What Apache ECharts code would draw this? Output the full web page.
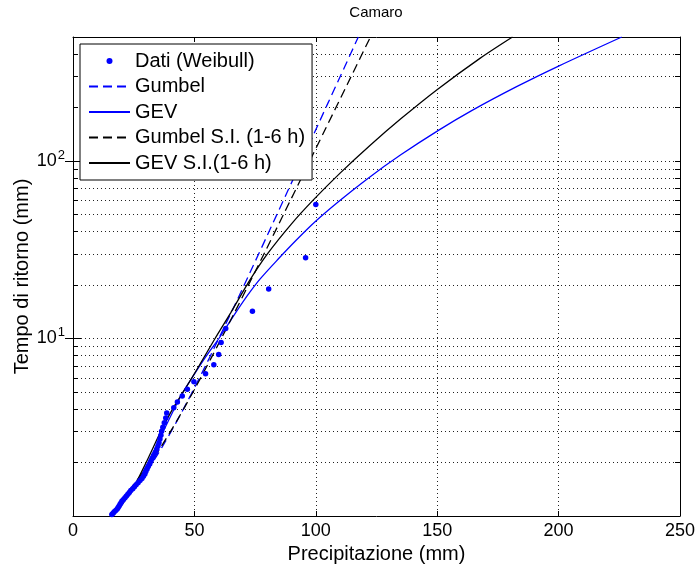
<!DOCTYPE html>
<html><head><meta charset="utf-8">
<script src="https://cdn.jsdelivr.net/npm/echarts@6/dist/echarts.min.js"></script>
<style>html,body{margin:0;padding:0;background:#fff}#c{width:699px;height:569px}</style>
</head><body><div id="c"></div>
<script>
const FONT = '"Liberation Sans", Arial, sans-serif';
const chartTitle = 'Camaro';
const xName = 'Precipitazione (mm)';
const yName = 'Tempo di ritorno (mm)';
const seriesNames = ['Dati (Weibull)', 'Gumbel', 'GEV', 'Gumbel S.I. (1-6 h)', 'GEV S.I.(1-6 h)'];
const yTickValues = [1,2,3,4,5,6,7,8,9,10,20,30,40,50,60,70,80,90,100,200,300,400,500];
const yMajorTicks = [10, 100];
const yLabelValues = [10, 100];

// observed data (Weibull plotting positions)
const dataPrecip = [16.0,16.5,17.0,17.6,18.2,18.6,19.0,19.4,19.8,20.2,20.8,21.4,22.0,22.6,23.2,23.8,24.6,25.3,26.0,26.8,27.6,28.4,29.0,29.6,30.0,30.5,31.0,31.6,32.1,32.6,33.2,33.9,34.5,35.0,35.4,35.8,36.2,36.5,37.0,37.6,38.2,38.6,41.5,43.0,45.0,47.1,49.8,54.6,58.0,60.0,61.0,62.9,73.9,80.6,95.8,100.0];
const dataReturn = [1.018,1.036,1.056,1.075,1.096,1.118,1.14,1.163,1.188,1.213,1.239,1.267,1.295,1.326,1.357,1.39,1.425,1.462,1.5,1.54,1.583,1.629,1.676,1.727,1.781,1.839,1.9,1.966,2.036,2.111,2.192,2.28,2.375,2.478,2.59,2.714,2.85,3.0,3.167,3.353,3.563,3.8,4.071,4.385,4.75,5.18,5.7,6.33,7.125,8.14,9.5,11.4,14.25,19.0,28.5,57.0];

const gumbelCurve = [[15.5,1.02],[17,1.08],[18.5,1.15],[20,1.23],[23,1.35],[26,1.5],[29,1.69],[32,1.93],[35,2.24],[38,2.62],[41,3.09],[44,3.67],[47,4.39],[50,5.27],[54,6.77],[58,8.76],[62,11.4],[67,15.8],[73,23.7],[80,38.1],[88,65.8],[96,114],[105,212],[112,342],[117.5,500]];
const gevCurve = [[16.5,1.02],[20,1.2],[25,1.45],[30,1.9],[35,2.6],[40,3.6],[45,4.9],[50,6.3],[55,8.0],[60.5,10.2],[65,12.7],[71.5,17.2],[77,21.6],[85,28.5],[92,35.9],[99.7,45.5],[109.3,59],[121.6,80.1],[135,108.4],[150.5,148.9],[164.2,192.3],[182.7,262.4],[200,342.8],[226,500]];
const gumbelSICurve = [[16.5,1.02],[18,1.09],[19.5,1.17],[22,1.32],[25,1.5],[28,1.7],[31,1.92],[34,2.2],[37,2.55],[40,2.97],[43,3.48],[46,4.11],[49,4.87],[53,6.15],[57,7.81],[61,9.95],[66,13.55],[72,19.7],[79,30.6],[87,51],[95,85.2],[104,152],[113,271],[122.5,500]];
const gevSICurve = [[17,1.02],[21,1.2],[25.5,1.5],[30.1,2],[36.2,3],[41,4],[45.4,5],[50.9,6.65],[58.5,10],[65,14],[72.9,21.4],[80,29.9],[90,44.3],[99,60.4],[110,85.5],[122.3,122.4],[135,172.9],[149.8,251.6],[167.6,379],[181,500]];

const BLUE = '#0000ff';
const dotted = {color: '#222', width: 1, type: [1, 3]};
const chart = echarts.init(document.getElementById('c'), null, {renderer: 'canvas'});
const axisCommon = {
  axisLine: {show: true, onZero: false, lineStyle: {color: '#000', width: 1}},
  axisTick: {show: true, inside: true, length: 5, lineStyle: {color: '#000'}},
};
const yBase = {type: 'log', logBase: 10, min: 1, max: 500};
chart.setOption({
  animation: false,
  backgroundColor: '#fff',
  title: {text: chartTitle, left: 371, textAlign: 'center', top: 0,
    textStyle: {fontFamily: FONT, fontSize: 15, fontWeight: 'normal', color: '#000'}},
  grid: {left: 73, right: 19, top: 37, bottom: 53, containLabel: false, outerBoundsMode: 'none'},
  legend: {
    orient: 'vertical', left: 80, top: 44,
    padding: [7, 7, 7, 8], itemGap: 5.5, itemWidth: 41, itemHeight: 14,
    backgroundColor: '#fff', borderColor: '#000', borderWidth: 1, borderRadius: 0,
    itemStyle: {opacity: 0},
    textStyle: {fontFamily: FONT, fontSize: 20, color: '#000'},
    data: [
      {name: seriesNames[0], icon: 'path://M0,0M41,14M17.5,7a3,3 0 1,0 6,0a3,3 0 1,0 -6,0', itemStyle: {opacity: 1, color: BLUE}},
      seriesNames[1], seriesNames[2], seriesNames[3], seriesNames[4]
    ]
  },
  xAxis: [
    Object.assign({}, axisCommon, {type: 'value', min: 0, max: 250, interval: 50, position: 'bottom',
      name: xName, nameLocation: 'middle', nameGap: 25,
      nameTextStyle: {fontFamily: FONT, fontSize: 20, color: '#000'},
      axisLabel: {fontFamily: FONT, fontSize: 18, color: '#000', margin: 6},
      splitLine: {show: true, lineStyle: dotted}}),
    Object.assign({}, axisCommon, {type: 'value', min: 0, max: 250, interval: 50, position: 'top',
      axisLabel: {show: false}, splitLine: {show: false}})
  ],
  yAxis: [
    Object.assign({}, axisCommon, yBase, {position: 'left',
      name: yName, nameLocation: 'middle', nameGap: 41, nameMoveOverlap: false,
      nameTextStyle: {fontFamily: FONT, fontSize: 20, color: '#000'},
      axisTick: {show: true, inside: true, length: 5, lineStyle: {color: '#000'}, customValues: yTickValues},
      axisLabel: {customValues: yLabelValues, margin: 8, color: '#000',
        formatter: v => '{b|10}{s|' + Math.round(Math.log10(v)) + '}',
        rich: {b: {fontFamily: FONT, fontSize: 18, color: '#000'},
               s: {fontFamily: FONT, fontSize: 13, color: '#000', padding: [0, 0, 12, 1]}}},
      splitLine: {show: true, lineStyle: dotted}}),
    Object.assign({}, axisCommon, yBase, {position: 'right',
      axisTick: {show: true, inside: true, length: 5, lineStyle: {color: '#000'}, customValues: yTickValues},
      axisLabel: {show: false}, splitLine: {show: false}}),
    Object.assign({}, yBase, {position: 'left', axisLine: {show: false},
      axisTick: {show: true, inside: true, length: 8, lineStyle: {color: '#000'}, customValues: yMajorTicks},
      axisLabel: {show: false}, splitLine: {show: false}}),
    Object.assign({}, yBase, {position: 'right', axisLine: {show: false},
      axisTick: {show: true, inside: true, length: 8, lineStyle: {color: '#000'}, customValues: yMajorTicks},
      axisLabel: {show: false}, splitLine: {show: false}})
  ],
  series: [
    {name: seriesNames[0], type: 'scatter', symbol: 'circle', symbolSize: 5.5,
     itemStyle: {color: BLUE, opacity: 1}, data: dataPrecip.map((x, i) => [x, dataReturn[i]]), z: 3},
    {name: seriesNames[1], type: 'line', smooth: 0.3, symbol: 'none', data: gumbelCurve,
     lineStyle: {color: BLUE, width: 1.3, type: [9, 5]}, itemStyle: {color: BLUE}},
    {name: seriesNames[2], type: 'line', smooth: 0.3, symbol: 'none', data: gevCurve,
     lineStyle: {color: BLUE, width: 1.3}, itemStyle: {color: BLUE}},
    {name: seriesNames[3], type: 'line', smooth: 0.3, symbol: 'none', data: gumbelSICurve,
     lineStyle: {color: '#000', width: 1.3, type: [9, 5]}, itemStyle: {color: '#000'}},
    {name: seriesNames[4], type: 'line', smooth: 0.3, symbol: 'none', data: gevSICurve,
     lineStyle: {color: '#000', width: 1.3}, itemStyle: {color: '#000'}}
  ]
});
</script></body></html>
